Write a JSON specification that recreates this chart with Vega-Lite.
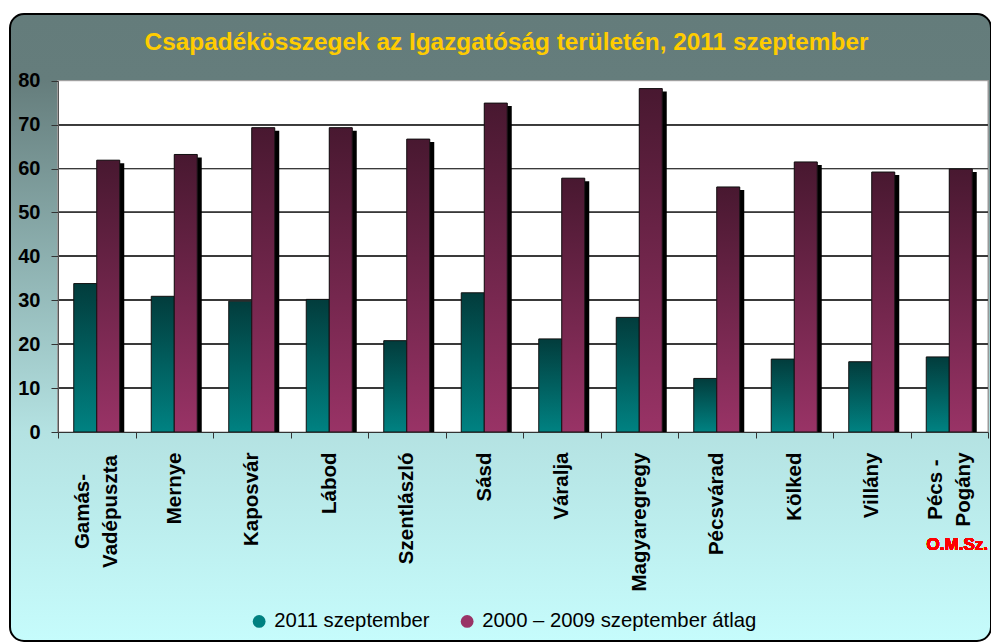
{
  "$schema": "https://vega.github.io/schema/vega-lite/v6.json",
  "width": 981,
  "height": 627,
  "autosize": {"type": "none"},
  "padding": {"left": 10, "top": 14, "right": 0, "bottom": 2},
  "background": "#ffffff",
  "title": {
    "text": "Csapadékösszegek az Igazgatóság területén, 2011 szeptember",
    "font": "Liberation Sans",
    "fontSize": 24.4,
    "fontWeight": "bold",
    "color": "#ffcc00",
    "anchor": "middle",
    "frame": "group",
    "baseline": "middle",
    "offset": -53,
    "dx": 6
  },
  "config": {
    "view": {
      "fill": {"gradient": "linear", "x1": 0, "y1": 0, "x2": 0, "y2": 1,
        "stops": [
          {"offset": 0, "color": "#647c7b"},
          {"offset": 0.105, "color": "#657d7c"},
          {"offset": 0.667, "color": "#b4e2e2"},
          {"offset": 1, "color": "#c6fcfc"}
        ]},
      "stroke": "#000000",
      "strokeWidth": 2,
      "cornerRadius": 14
    },
    "font": "Liberation Sans"
  },
  "data": {
    "values": [
      {"station": "Gamás-Vadépuszta", "series": "2011 szeptember", "value": 33.8},
      {"station": "Mernye", "series": "2011 szeptember", "value": 30.9},
      {"station": "Kaposvár", "series": "2011 szeptember", "value": 29.8},
      {"station": "Lábod", "series": "2011 szeptember", "value": 30.2},
      {"station": "Szentlászló", "series": "2011 szeptember", "value": 20.8},
      {"station": "Sásd", "series": "2011 szeptember", "value": 31.7},
      {"station": "Váralja", "series": "2011 szeptember", "value": 21.2},
      {"station": "Magyaregregy", "series": "2011 szeptember", "value": 26.1},
      {"station": "Pécsvárad", "series": "2011 szeptember", "value": 12.2},
      {"station": "Kölked", "series": "2011 szeptember", "value": 16.6},
      {"station": "Villány", "series": "2011 szeptember", "value": 16.0},
      {"station": "Pécs - Pogány", "series": "2011 szeptember", "value": 17.1},
      {"station": "Gamás-Vadépuszta", "series": "2000 – 2009 szeptember átlag", "value": 61.9},
      {"station": "Mernye", "series": "2000 – 2009 szeptember átlag", "value": 63.2},
      {"station": "Kaposvár", "series": "2000 – 2009 szeptember átlag", "value": 69.3},
      {"station": "Lábod", "series": "2000 – 2009 szeptember átlag", "value": 69.3},
      {"station": "Szentlászló", "series": "2000 – 2009 szeptember átlag", "value": 66.7},
      {"station": "Sásd", "series": "2000 – 2009 szeptember átlag", "value": 74.9},
      {"station": "Váralja", "series": "2000 – 2009 szeptember átlag", "value": 57.8},
      {"station": "Magyaregregy", "series": "2000 – 2009 szeptember átlag", "value": 78.2},
      {"station": "Pécsvárad", "series": "2000 – 2009 szeptember átlag", "value": 55.8},
      {"station": "Kölked", "series": "2000 – 2009 szeptember átlag", "value": 61.5},
      {"station": "Villány", "series": "2000 – 2009 szeptember átlag", "value": 59.2},
      {"station": "Pécs - Pogány", "series": "2000 – 2009 szeptember átlag", "value": 59.9}
    ]
  },
  "layer": [
    {
      "transform": [{"filter": "datum.series === '2011 szeptember'"}],
      "mark": {"type": "bar", "width": 23, "xOffset": -11.5},
      "encoding": {
        "x": {"field": "station", "type": "nominal",
          "scale": {"type": "band", "domain": ["Gamás-Vadépuszta", "Mernye", "Kaposvár", "Lábod", "Szentlászló", "Sásd", "Váralja", "Magyaregregy", "Pécsvárad", "Kölked", "Villány", "Pécs - Pogány"], "range": [48, 978], "paddingInner": 0, "paddingOuter": 0},
          "axis": {
            "title": null, "offset": -209, "zindex": 1, "grid": false,
            "tickBand": "extent", "tickSize": 6, "tickColor": "#333333", "tickWidth": 1,
            "domainColor": "#333333", "domainWidth": 1,
            "labelAngle": -90,
            "labelAlign": {"condition": {"test": "datum.value === 'Gamás-Vadépuszta' || datum.value === 'Pécs - Pogány'", "value": "center"}, "value": "right"},
            "labelPadding": {"condition": [{"test": "datum.value === 'Gamás-Vadépuszta'", "value": 73}, {"test": "datum.value === 'Pécs - Pogány'", "value": 51}], "value": 14},
            "labelOffset": {"condition": {"test": "datum.value === 'Gamás-Vadépuszta' || datum.value === 'Pécs - Pogány'", "value": -14}, "value": 0},
            "labelBaseline": "middle",
            "labelExpr": "datum.value === 'Gamás-Vadépuszta' ? ['Gamás-', 'Vadépuszta'] : datum.value === 'Pécs - Pogány' ? ['Pécs -', 'Pogány'] : datum.label",
            "labelFont": "Liberation Sans", "labelFontSize": 20.5, "labelFontWeight": "bold", "labelColor": "#000000",
            "labelLineHeight": 28, "labelLimit": 300, "labelOverlap": false
          }},
        "y": {"field": "value", "type": "quantitative",
          "scale": {"domain": [0, 80], "range": [418, 66.7], "nice": false, "zero": false},
          "axis": {
            "title": null, "values": [0, 10, 20, 30, 40, 50, 60, 70, 80], "offset": -48, "zindex": 1, "grid": false,
            "domainColor": "#555555", "domainWidth": 1, "tickColor": "#333333", "tickSize": 7, "tickWidth": 1,
            "labelPadding": 11, "labelFont": "Liberation Sans", "labelFontSize": 20, "labelFontWeight": "bold", "labelColor": "#000000"
          }},
        "color": {"field": "series", "type": "nominal",
          "scale": {"domain": ["2011 szeptember", "2000 – 2009 szeptember átlag"], "range": ["#008080", "#993366"]},
          "legend": {
            "title": null, "orient": "none", "legendX": 239, "legendY": 597, "direction": "horizontal", "padding": 0,
            "symbolType": "circle", "symbolSize": 165, "symbolStrokeWidth": 0,
            "labelFont": "Liberation Sans", "labelFontSize": 20.3, "labelColor": "#000000", "labelLimit": 400,
            "columnPadding": 27, "labelOffset": 5
          }}
      }
    },
    {
      "mark": {"type": "rect", "fill": "#ffffff", "stroke": "#9a9a9a", "strokeWidth": 1},
      "encoding": {
        "x": {"datum": "Gamás-Vadépuszta", "type": "nominal", "bandPosition": 0},
        "x2": {"datum": "Pécs - Pogány", "bandPosition": 1},
        "y": {"datum": 0, "type": "quantitative"},
        "y2": {"datum": 80}
      }
    },
    {"mark": {"type": "rule", "color": "#3a3a3a", "strokeWidth": 1},
      "encoding": {"x": {"datum": "Gamás-Vadépuszta", "type": "nominal", "bandPosition": 0}, "x2": {"datum": "Pécs - Pogány", "bandPosition": 1}, "y": {"datum": 10, "type": "quantitative"}}},
    {"mark": {"type": "rule", "color": "#3a3a3a", "strokeWidth": 1},
      "encoding": {"x": {"datum": "Gamás-Vadépuszta", "type": "nominal", "bandPosition": 0}, "x2": {"datum": "Pécs - Pogány", "bandPosition": 1}, "y": {"datum": 20, "type": "quantitative"}}},
    {"mark": {"type": "rule", "color": "#3a3a3a", "strokeWidth": 1},
      "encoding": {"x": {"datum": "Gamás-Vadépuszta", "type": "nominal", "bandPosition": 0}, "x2": {"datum": "Pécs - Pogány", "bandPosition": 1}, "y": {"datum": 30, "type": "quantitative"}}},
    {"mark": {"type": "rule", "color": "#3a3a3a", "strokeWidth": 1},
      "encoding": {"x": {"datum": "Gamás-Vadépuszta", "type": "nominal", "bandPosition": 0}, "x2": {"datum": "Pécs - Pogány", "bandPosition": 1}, "y": {"datum": 40, "type": "quantitative"}}},
    {"mark": {"type": "rule", "color": "#3a3a3a", "strokeWidth": 1},
      "encoding": {"x": {"datum": "Gamás-Vadépuszta", "type": "nominal", "bandPosition": 0}, "x2": {"datum": "Pécs - Pogány", "bandPosition": 1}, "y": {"datum": 50, "type": "quantitative"}}},
    {"mark": {"type": "rule", "color": "#3a3a3a", "strokeWidth": 1},
      "encoding": {"x": {"datum": "Gamás-Vadépuszta", "type": "nominal", "bandPosition": 0}, "x2": {"datum": "Pécs - Pogány", "bandPosition": 1}, "y": {"datum": 60, "type": "quantitative"}}},
    {"mark": {"type": "rule", "color": "#3a3a3a", "strokeWidth": 1},
      "encoding": {"x": {"datum": "Gamás-Vadépuszta", "type": "nominal", "bandPosition": 0}, "x2": {"datum": "Pécs - Pogány", "bandPosition": 1}, "y": {"datum": 70, "type": "quantitative"}}},
    {
      "transform": [{"filter": "datum.series !== '2011 szeptember'"}],
      "mark": {"type": "bar", "fill": "#000000", "width": 23, "xOffset": 16, "yOffset": 3},
      "encoding": {
        "x": {"field": "station", "type": "nominal"},
        "y": {"field": "value", "type": "quantitative"},
        "y2": {"datum": 0}
      }
    },
    {
      "transform": [{"filter": "datum.series === '2011 szeptember'"}],
      "mark": {"type": "bar", "width": 23, "xOffset": -11.5, "stroke": "#111111", "strokeWidth": 1,
        "fill": {"gradient": "linear", "x1": 0, "y1": 0, "x2": 0, "y2": 1,
          "stops": [{"offset": 0, "color": "#023c3c"}, {"offset": 1, "color": "#008282"}]}},
      "encoding": {
        "x": {"field": "station", "type": "nominal"},
        "y": {"field": "value", "type": "quantitative"}
      }
    },
    {
      "transform": [{"filter": "datum.series !== '2011 szeptember'"}],
      "mark": {"type": "bar", "width": 23, "xOffset": 11.5},
      "encoding": {
        "x": {"field": "station", "type": "nominal"},
        "y": {"field": "value", "type": "quantitative"},
        "color": {"field": "series", "type": "nominal"}
      }
    },
    {
      "transform": [{"filter": "datum.series !== '2011 szeptember'"}],
      "mark": {"type": "bar", "width": 23, "xOffset": 11.5, "stroke": "#111111", "strokeWidth": 1,
        "fill": {"gradient": "linear", "x1": 0, "y1": 0, "x2": 0, "y2": 1,
          "stops": [{"offset": 0, "color": "#481830"}, {"offset": 1, "color": "#993366"}]}},
      "encoding": {
        "x": {"field": "station", "type": "nominal"},
        "y": {"field": "value", "type": "quantitative"}
      }
    },
    {
      "mark": {"type": "text", "text": "O.M.Sz.", "fill": "#ff0000", "font": "Liberation Sans", "fontSize": 17, "fontWeight": "bold", "dx": 8, "baseline": "middle", "align": "center"},
      "encoding": {
        "x": {"datum": "Pécs - Pogány", "type": "nominal"},
        "y": {"datum": -25.7, "type": "quantitative"}
      }
    }
  ]
}
